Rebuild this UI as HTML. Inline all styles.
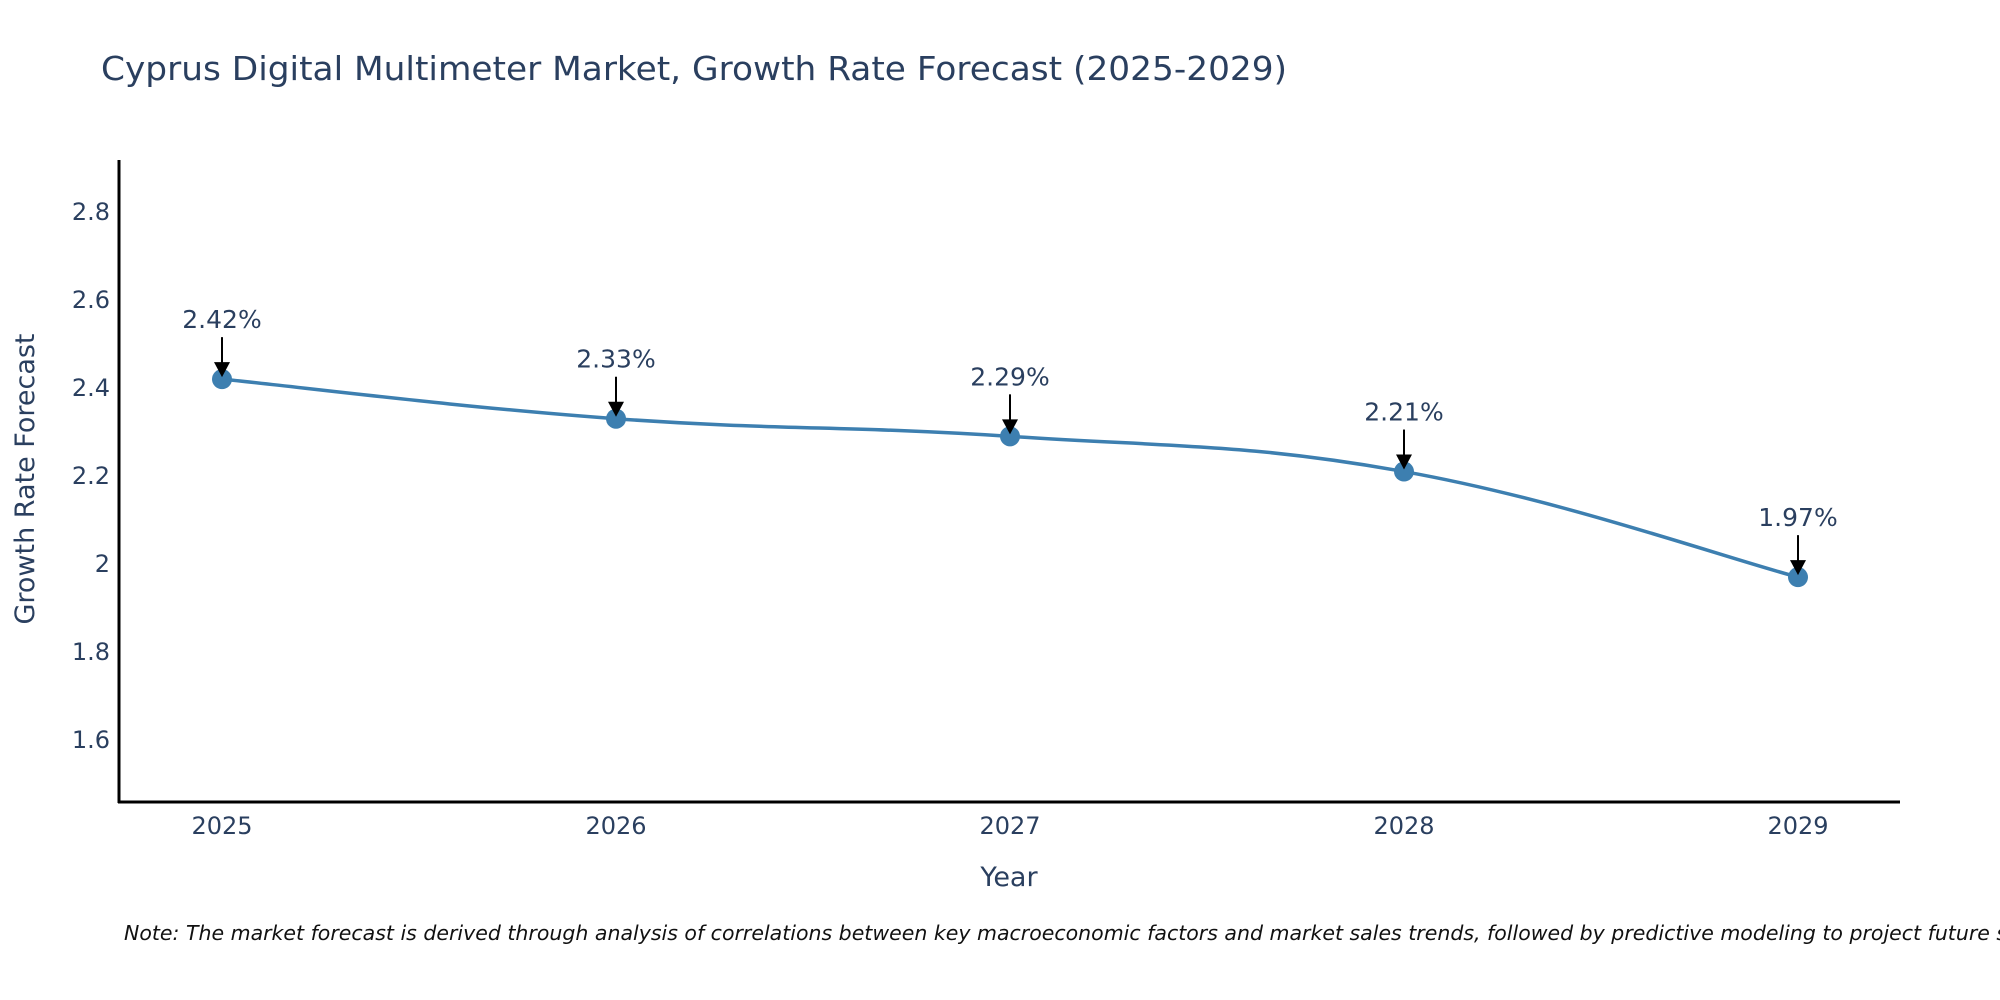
<!DOCTYPE html>
<html><head><meta charset="utf-8"><style>
html,body{margin:0;padding:0;background:#fff;}
svg{display:block;font-family:"DejaVu Sans","Liberation Sans",sans-serif;}
</style></head><body>
<svg id="chart" width="2000" height="1000" viewBox="0 0 2000 1000">
<text x="101" y="80" font-size="33" fill="#2a3f5f" textLength="1186" lengthAdjust="spacingAndGlyphs">Cyprus Digital Multimeter Market, Growth Rate Forecast (2025-2029)</text>
<g id="yticks"></g>
<g id="xticks"></g>
<g id="series"></g>
<line x1="119" y1="160" x2="119" y2="803" stroke="#000" stroke-width="3"/>
<line x1="118" y1="802" x2="1900" y2="802" stroke="#000" stroke-width="3"/>
<text transform="translate(34,479) rotate(-90)" text-anchor="middle" font-size="27" fill="#2a3f5f">Growth Rate Forecast</text>
<text x="1009" y="886" text-anchor="middle" font-size="27" fill="#2a3f5f">Year</text>
<text x="124" y="940" font-size="20.5" font-style="italic" fill="#111">Note: The market forecast is derived through analysis of correlations between key macroeconomic factors and market sales trends, followed by predictive modeling to project future sales.</text>
</svg>
<script>
const years = ["2025","2026","2027","2028","2029"];
const growth = [2.42, 2.33, 2.29, 2.21, 1.97];
const yTickVals = [1.6, 1.8, 2, 2.2, 2.4, 2.6, 2.8];
const yTickLabels = ["1.6","1.8","2","2.2","2.4","2.6","2.8"];
const NS="http://www.w3.org/2000/svg";
const yMin=1.459, yMax=2.918, plotTop=160, plotBot=802;
function yS(v){return plotBot-(v-yMin)/(yMax-yMin)*(plotBot-plotTop);}
function xS(i){return 222+i*(1798-222)/(years.length-1);}
function mk(tag,attrs,parent){const e=document.createElementNS(NS,tag);for(const k in attrs)e.setAttribute(k,attrs[k]);parent.appendChild(e);return e;}
const yt=document.getElementById('yticks');
yTickVals.forEach((v,i)=>{const t=mk('text',{x:110,y:yS(v)+8,'text-anchor':'end','font-size':24,fill:'#2a3f5f'},yt);t.textContent=yTickLabels[i];

});
const xt=document.getElementById('xticks');
years.forEach((y,i)=>{const t=mk('text',{x:xS(i),y:834,'text-anchor':'middle','font-size':24,fill:'#2a3f5f'},xt);t.textContent=y;

});
const g=document.getElementById('series');
const pts=growth.map((v,i)=>[xS(i),yS(v)]);
let d=`M${pts[0][0]},${pts[0][1]}`;
for(let i=0;i<pts.length-1;i++){const p0=pts[Math.max(i-1,0)],p1=pts[i],p2=pts[i+1],p3=pts[Math.min(i+2,pts.length-1)];const s=0.2;
d+=` C${p1[0]+(p2[0]-p0[0])*s},${p1[1]+(p2[1]-p0[1])*s} ${p2[0]-(p3[0]-p1[0])*s},${p2[1]-(p3[1]-p1[1])*s} ${p2[0]},${p2[1]}`;}
const line=mk('path',{d:d,fill:'none',stroke:'#3d7fb0','stroke-width':3.5},g);


pts.forEach((p,i)=>{
const c=mk('circle',{cx:p[0],cy:p[1],r:10,fill:'#3d7fb0'},g);


const a=mk('line',{x1:p[0],y1:p[1]-42,x2:p[0],y2:p[1]-14,stroke:'#000','stroke-width':2},g);


const h=mk('polygon',{points:`${p[0]-8},${p[1]-17} ${p[0]+8},${p[1]-17} ${p[0]},${p[1]-2}`,fill:'#000'},g);


const t=mk('text',{x:p[0],y:p[1]-51,'text-anchor':'middle','font-size':25,fill:'#2a3f5f'},g);
t.textContent=growth[i].toFixed(2)+'%';


});
</script>
</body></html>
